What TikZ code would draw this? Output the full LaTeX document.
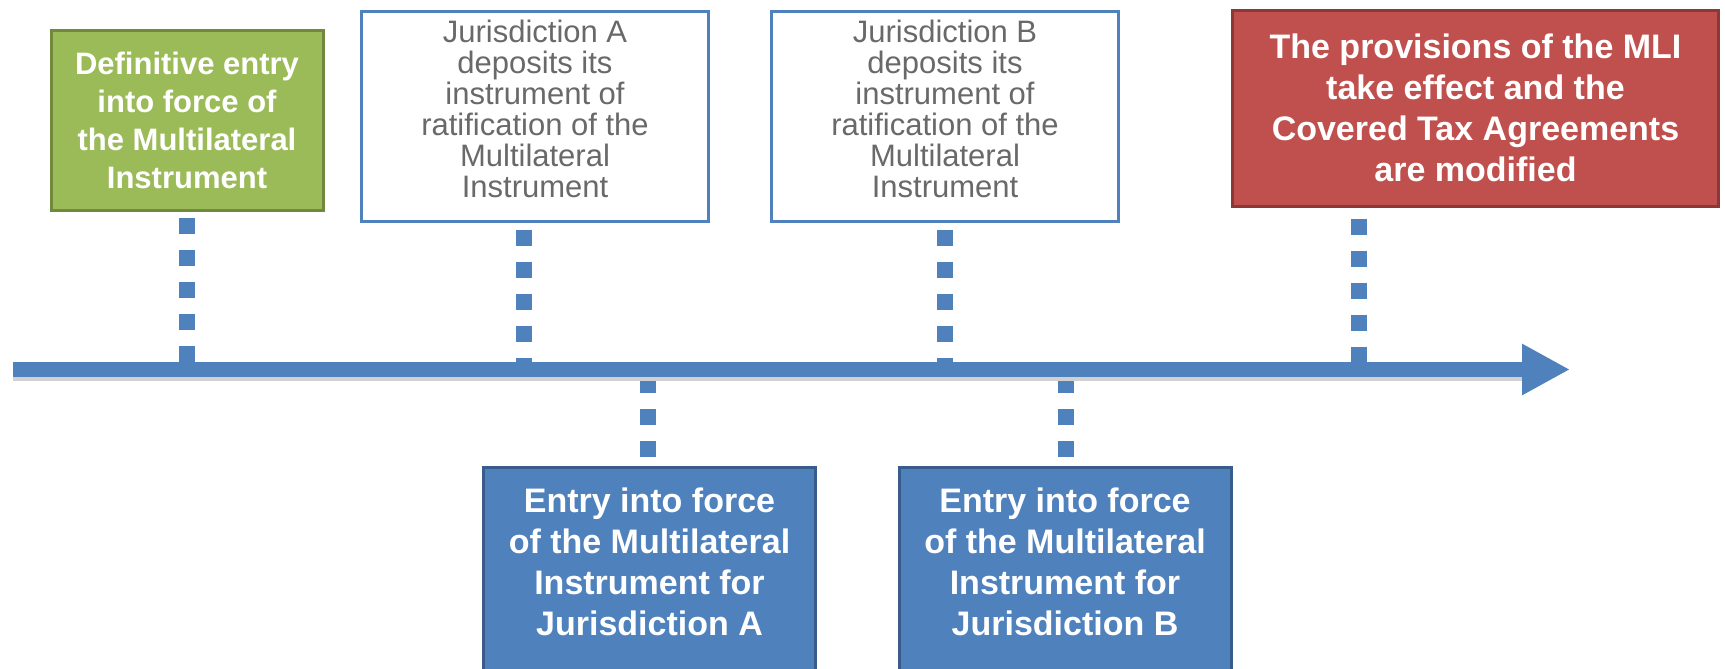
\documentclass[tikz,border=0pt]{standalone}
\usepackage{fontspec}
\setmainfont{Liberation Sans}
\usepackage{tikz}
\usetikzlibrary{arrows.meta,positioning}
\definecolor{lineblue}{RGB}{79,129,189}
\definecolor{lineblueedge}{RGB}{56,93,138}
\definecolor{mligreen}{RGB}{155,187,89}
\definecolor{mligreenedge}{RGB}{113,137,63}
\definecolor{mlired}{RGB}{192,80,77}
\definecolor{mliredge}{RGB}{140,56,54}
\definecolor{depogray}{RGB}{105,105,105}

\begin{document}
\begin{tikzpicture}[x=0.5pt, y=-0.5pt, >=latex,
  greenbox/.style={draw=mligreenedge, line width=1.5pt, fill=mligreen, inner sep=0pt,
    minimum width=136pt, minimum height=90pt, align=center, text=white,
    font=\fontsize{15.5}{19}\selectfont\bfseries},
  depobox/.style={draw=lineblue, line width=1.5pt, fill=white, inner sep=0pt,
    minimum width=173.5pt, minimum height=105pt, align=center, text=depogray,
    font=\fontsize{15.5}{15.5}\selectfont},
  redbox/.style={draw=mliredge, line width=1.5pt, fill=mlired, inner sep=0pt,
    minimum width=243pt, minimum height=98pt, align=center, text=white,
    font=\fontsize{17}{20.5}\selectfont\bfseries},
  forcebox/.style={draw=lineblueedge, line width=1.5pt, fill=lineblue, inner sep=0pt,
    minimum width=166pt, minimum height=120pt},
  forcetext/.style={align=center, text=white, inner sep=0pt,
    font=\fontsize{17}{20.5}\selectfont\bfseries},
  tick/.style={lineblue, line width=8pt, dash pattern=on 8pt off 8pt}]

\useasboundingbox (0,0) rectangle (1725,669);

% 1. Event boxes above the timeline
\node[greenbox] (definitive) at (187,120.5) {Definitive entry\\into force of\\the Multilateral\\Instrument};
\node[depobox] (depoA) at (535,116.5) {Jurisdiction A\\deposits its\\instrument of\\ratification of the\\Multilateral\\Instrument\rule[-8pt]{0pt}{8pt}};
\node[depobox] (depoB) at (945,116.5) {Jurisdiction B\\deposits its\\instrument of\\ratification of the\\Multilateral\\Instrument\rule[-8pt]{0pt}{8pt}};
\node[redbox] (effect) at (1475.5,108) {The provisions of the MLI\\take effect and the\\Covered Tax Agreements\\are modified};

% 2. Event boxes below the timeline (cut by the page edge)
\node[forcebox, anchor=north] (forceA) at (649.5,466) {};
\node[forcetext] (forceAtext) at (649.5,562) {Entry into force\\of the Multilateral\\Instrument for\\Jurisdiction A};
\node[forcebox, anchor=north] (forceB) at (1065,466) {};
\node[forcetext] (forceBtext) at (1065,562) {Entry into force\\of the Multilateral\\Instrument for\\Jurisdiction B};

% 3. Points on the timeline
\coordinate (tlstart) at (13,369.5);
\coordinate (tlend) at (1570,369.5);
\coordinate (t1) at (187,362);
\coordinate (t2) at (524,362);
\coordinate (t3) at (945,362);
\coordinate (t4) at (1359,362);
\coordinate (b1) at (648,377);
\coordinate (b2) at (1066,377);

% 4. Dotted connectors
\draw[tick, dash phase=13pt] (definitive.south -| t1) -- (t1);
\draw[tick, dash phase=12.5pt] (depoA.south -| t2) -- (t2);
\draw[tick, dash phase=12.5pt] (depoB.south -| t3) -- (t3);
\draw[tick, dash phase=10.5pt] (effect.south -| t4) -- (t4);
\draw[tick] (b1) -- (b1 |- forceA.north);
\draw[tick] (b2) -- (b2 |- forceB.north);

% 5. Timeline arrow with soft shadow
\draw[line width=3pt, black!18] ([yshift=-4pt]tlstart) -- ([yshift=-4pt,xshift=-24pt]tlend);
\draw[line width=7.5pt, lineblue, -{Triangle[length=24pt,width=24pt]}] (tlstart) -- (tlend);

\end{tikzpicture}
\end{document}
